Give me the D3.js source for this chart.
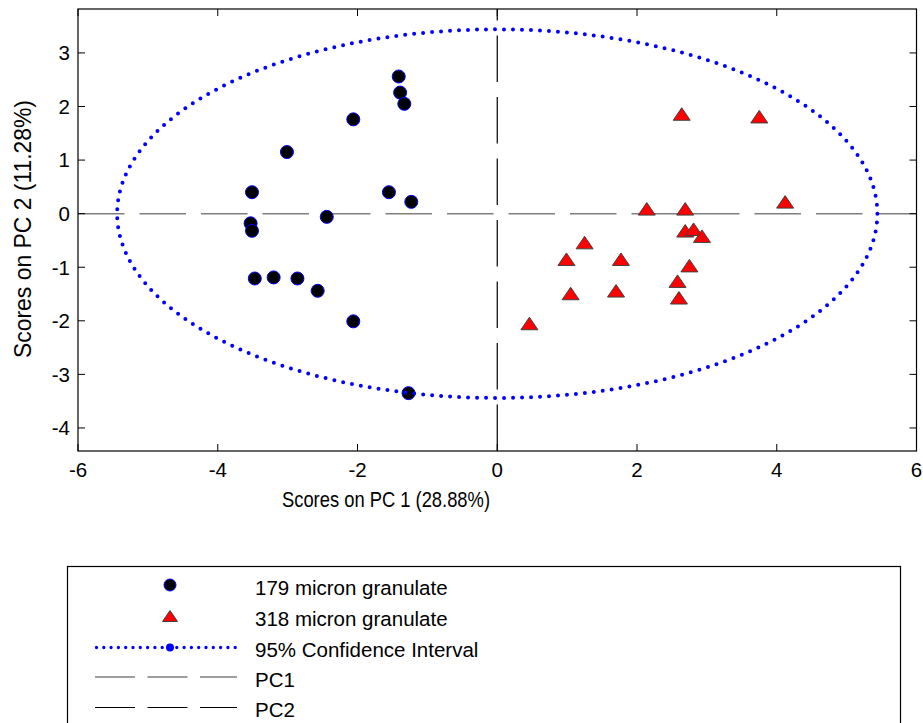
<!DOCTYPE html>
<html>
<head>
<meta charset="utf-8">
<script src="https://cdn.jsdelivr.net/npm/d3@7"></script>
<style>
  html, body { margin: 0; padding: 0; background: #fff; }
  svg { display: block; font-family: "Liberation Sans", Arial, Helvetica, sans-serif; }
</style>
</head>
<body>
<svg id="chart" width="923" height="723"></svg>
<script>
// ---- data ----
const group179X = [-1.41, -1.39, -1.33, -2.06, -3.01, -3.51, -1.55, -1.23, -2.44, -3.53, -3.51, -3.47, -3.20, -2.86, -2.57, -2.06, -1.27];
const group179Y = [2.56, 2.26, 2.05, 1.76, 1.15, 0.40, 0.40, 0.22, -0.06, -0.18, -0.32, -1.21, -1.19, -1.21, -1.44, -2.01, -3.35];
const group318X = [2.64, 3.75, 2.14, 2.69, 4.12, 2.69, 2.81, 2.93, 1.25, 0.99, 1.77, 2.75, 2.58, 1.05, 1.70, 2.60, 0.46];
const group318Y = [1.86, 1.81, 0.09, 0.09, 0.22, -0.32, -0.29, -0.42, -0.54, -0.85, -0.85, -0.97, -1.26, -1.49, -1.44, -1.57, -2.05];
const ellipseCenter = [0, 0];
const ellipseRadii = [5.44, 3.44];
const xTicks = [-6, -4, -2, 0, 2, 4, 6];
const yTicks = [-4, -3, -2, -1, 0, 1, 2, 3];
const xDomain = [-6, 6];
const yDomain = [-4.43, 3.82];
const legendLabels = ["179 micron granulate", "318 micron granulate", "95% Confidence Interval", "PC1", "PC2"];
const xTitle = "Scores on PC 1 (28.88%)";
const yTitle = "Scores on PC 2 (11.28%)";

// ---- layout ----
const svg = d3.select("#chart");
const L = 78, R = 916.5, T = 9, B = 451;
const x = d3.scaleLinear().domain(xDomain).range([L, R]);
const y = d3.scaleLinear().domain(yDomain).range([B, T]);
const tickLen = 7;

// PC1 (horizontal, gray) and PC2 (vertical, black) dashed lines
svg.append("line")
  .attr("x1", x(xDomain[0])).attr("x2", x(xDomain[1]))
  .attr("y1", y(0)).attr("y2", y(0))
  .attr("stroke", "#7f7f7f").attr("stroke-width", 1.5)
  .attr("stroke-dasharray", "46.5,15");
svg.append("line")
  .attr("x1", x(0)).attr("x2", x(0))
  .attr("y1", y(yDomain[0])).attr("y2", y(yDomain[1]))
  .attr("stroke", "#000").attr("stroke-width", 1.2)
  .attr("stroke-dasharray", "46.5,15");

// circles (179 micron)
svg.append("g").selectAll("circle")
  .data(d3.range(group179X.length))
  .join("circle")
  .attr("cx", i => x(group179X[i]))
  .attr("cy", i => y(group179Y[i]))
  .attr("r", 6.5)
  .attr("fill", "#000")
  .attr("stroke", "#0000ff")
  .attr("stroke-width", 1);

// triangles (318 micron)
const triPath = (w, h) => `M0,${-h/2}L${w/2},${h/2}L${-w/2},${h/2}Z`;
svg.append("g").selectAll("path")
  .data(d3.range(group318X.length))
  .join("path")
  .attr("d", triPath(17, 12.5))
  .attr("transform", i => `translate(${x(group318X[i])},${y(group318Y[i])})`)
  .attr("fill", "#ff0000")
  .attr("stroke", "#404040")
  .attr("stroke-width", 1);

// 95% confidence ellipse (dotted)
const angles = d3.range(0, 361, 1).map(a => a * Math.PI / 180);
const ellipseLine = d3.line()
  .x(t => x(ellipseCenter[0] + ellipseRadii[0] * Math.cos(t)))
  .y(t => y(ellipseCenter[1] + ellipseRadii[1] * Math.sin(t)));
svg.append("path")
  .attr("d", ellipseLine(angles))
  .attr("fill", "none")
  .attr("stroke", "#0000ff")
  .attr("stroke-width", 4)
  .attr("stroke-linecap", "round")
  .attr("stroke-dasharray", "0,9");

// axes box
svg.append("rect")
  .attr("x", L).attr("y", T).attr("width", R - L).attr("height", B - T)
  .attr("fill", "none").attr("stroke", "#000").attr("stroke-width", 1.2);

// ticks (inward, all four sides)
const tg = svg.append("g").attr("stroke", "#000").attr("stroke-width", 1);
xTicks.forEach(v => {
  tg.append("line").attr("x1", x(v)).attr("x2", x(v)).attr("y1", B).attr("y2", B - tickLen);
  tg.append("line").attr("x1", x(v)).attr("x2", x(v)).attr("y1", T).attr("y2", T + tickLen);
});
yTicks.forEach(v => {
  tg.append("line").attr("x1", L).attr("x2", L + tickLen).attr("y1", y(v)).attr("y2", y(v));
  tg.append("line").attr("x1", R).attr("x2", R - tickLen).attr("y1", y(v)).attr("y2", y(v));
});

// tick labels
svg.append("g").selectAll("text")
  .data(xTicks).join("text")
  .attr("x", d => x(d)).attr("y", 477)
  .attr("text-anchor", "middle")
  .attr("font-size", 20.5)
  .text(d => d);
svg.append("g").selectAll("text")
  .data(yTicks).join("text")
  .attr("x", 70).attr("y", d => y(d) + 7.4)
  .attr("text-anchor", "end")
  .attr("font-size", 20.5)
  .text(d => d);

// axis titles
svg.append("text")
  .attr("x", 386).attr("y", 507)
  .attr("text-anchor", "middle")
  .attr("font-size", 22)
  .attr("textLength", 208)
  .attr("lengthAdjust", "spacingAndGlyphs")
  .text(xTitle);
svg.append("text")
  .attr("transform", "translate(31,229) rotate(-90)")
  .attr("text-anchor", "middle")
  .attr("font-size", 24)
  .attr("textLength", 258)
  .attr("lengthAdjust", "spacingAndGlyphs")
  .text(yTitle);

// legend
const lg = svg.append("g");
lg.append("rect")
  .attr("x", 67.5).attr("y", 566.5).attr("width", 833).attr("height", 200)
  .attr("fill", "#fff").attr("stroke", "#000").attr("stroke-width", 1.2);
const symX = 170, lineX1 = 95, lineX2 = 237, textX = 255;
const rowY = [585, 616, 647.5, 677, 707.5];
lg.append("circle").attr("cx", symX).attr("cy", rowY[0]).attr("r", 6)
  .attr("fill", "#000").attr("stroke", "#0000ff").attr("stroke-width", 1);
lg.append("path").attr("d", triPath(15, 11))
  .attr("transform", `translate(${symX},${rowY[1]})`)
  .attr("fill", "#ff0000").attr("stroke", "#404040").attr("stroke-width", 1);
lg.append("line").attr("x1", lineX1 + 1.5).attr("x2", lineX2).attr("y1", rowY[2]).attr("y2", rowY[2])
  .attr("stroke", "#0000ff").attr("stroke-width", 3.3).attr("stroke-linecap", "round")
  .attr("stroke-dasharray", "0,7.3");
lg.append("circle").attr("cx", symX).attr("cy", rowY[2]).attr("r", 4).attr("fill", "#0000ff");
lg.append("line").attr("x1", lineX1).attr("x2", lineX2).attr("y1", rowY[3]).attr("y2", rowY[3])
  .attr("stroke", "#7f7f7f").attr("stroke-width", 1.5).attr("stroke-dasharray", "40,12.5");
lg.append("line").attr("x1", lineX1).attr("x2", lineX2).attr("y1", rowY[4]).attr("y2", rowY[4])
  .attr("stroke", "#000").attr("stroke-width", 1.2).attr("stroke-dasharray", "40,12.5");
lg.selectAll("text.lbl")
  .data(legendLabels).join("text")
  .attr("class", "lbl")
  .attr("x", textX).attr("y", (d, i) => rowY[i] + 9.8)
  .attr("font-size", 20.5)
  .text(d => d);
</script>
</body>
</html>
